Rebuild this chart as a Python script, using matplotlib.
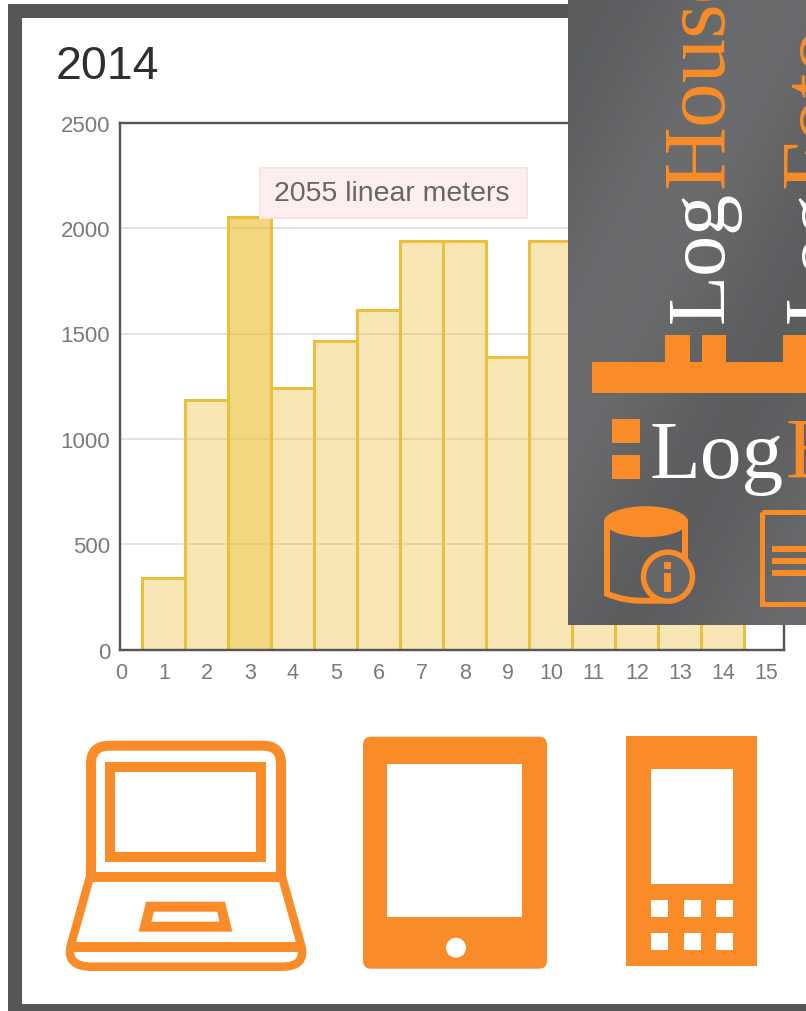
import numpy as np
import matplotlib
matplotlib.use("Agg")
import matplotlib.pyplot as plt
from matplotlib.patches import Rectangle, FancyBboxPatch, Ellipse, Circle, Polygon, PathPatch
from matplotlib.path import Path

days = [1, 2, 3, 4, 5, 6, 7, 8, 9, 10, 11, 12, 13, 14]
meters = [342, 1186, 2055, 1243, 1463, 1613, 1938, 1938, 1388, 1938, 1800, 1500, 1300, 1100]
highlighted_day = 3
x_ticks = list(range(0, 16))
y_ticks = [0, 500, 1000, 1500, 2000, 2500]
title = "2014"
tooltip = "2055 linear meters"

W, H = 806, 1012
OFF = 0.7
ORANGE = "#f98c28"
plt.rcParams["font.family"] = ["Liberation Sans", "DejaVu Sans"]
fig = plt.figure(figsize=(W / 100, H / 100), dpi=100, facecolor="white")
px = 72 / 100

# background layer in pixel coordinates
bg = fig.add_axes([0, 0, 1, 1], zorder=0)
bg.set_xlim(0, W); bg.set_ylim(H - OFF, -OFF); bg.axis("off")
bg.add_patch(Rectangle((8, 4), W, H, fc="#565656", ec="none"))
bg.add_patch(Rectangle((22, 18), W, 986, fc="white", ec="none"))
bg.text(55.5, 78, title, fontsize=33.5, color="#2f2f2f", ha="left", va="baseline")

# chart
ax = fig.add_axes([120 / W, 1 - (650 + OFF) / H, 664 / W, 527 / H], zorder=1)
ax.patch.set_alpha(0)
ax.set_xlim(-0.02, 15.42)
ax.set_ylim(0, 2500)
ax.set_axisbelow(True)
ax.yaxis.grid(True, color="#e3e3e3", lw=2 * px)
ax.xaxis.grid(False)
for d, v in zip(days, meters):
    a = 0.62 if d == highlighted_day else 0.36
    ax.bar(d, v, width=1.0, color=(0.93, 0.74, 0.2, a), edgecolor="#e9bf3c", linewidth=3 * px, zorder=2)
ax.set_xticks(x_ticks)
ax.set_yticks(y_ticks)
ax.tick_params(axis="x", length=0, labelsize=15.5, labelcolor="#7a7a7a", pad=9)
ax.tick_params(axis="y", length=0, labelsize=16, labelcolor="#7a7a7a", pad=7)
for s in ax.spines.values():
    s.set_color("#555555")
    s.set_linewidth(2.4 * px)
    s.set_zorder(3)

# overlay layer
ov = fig.add_axes([0, 0, 1, 1], zorder=2)
ov.set_xlim(0, W); ov.set_ylim(H - OFF, -OFF); ov.axis("off"); ov.patch.set_alpha(0)

# tooltip
ov.add_patch(Rectangle((260, 168), 267, 50, fc="#fdefef", ec="#fbe2e2", lw=2 * px))
ov.text(392, 193.5, tooltip, fontsize=20.5, color="#666666", ha="center", va="center")

# panel with soft diagonal bands
yy, xx = np.mgrid[0:625, 568:806]
n = 0.88 * xx + 0.46 * yy
g = 0.39 + 0.028 * np.cos((n - 680) / 320.0 * 2 * np.pi)
ov.imshow(np.dstack([g - 0.004, g + 0.004, g + 0.012]), extent=(568, 806, 625, 0), aspect="auto", zorder=1, interpolation="bilinear")
ov.set_xlim(0, W); ov.set_ylim(H - OFF, -OFF)

serif = ["Liberation Serif", "DejaVu Serif"]
kw = dict(family=serif, rotation=90, rotation_mode="anchor", ha="left", va="baseline", zorder=3)
ov.text(723, 322, "Log", fontsize=59, color="white", **kw)
ov.text(723, 187, "House", fontsize=64, color=ORANGE, **kw)
ov.text(840, 322, "Log", fontsize=59, color="white", **kw)
ov.text(840, 187, "Foto", fontsize=64, color=ORANGE, **kw)

ov.add_patch(Rectangle((592, 362), 240, 31, fc=ORANGE, ec="none", zorder=2))
ov.add_patch(Rectangle((665, 335), 25, 28, fc=ORANGE, ec="none", zorder=2))
ov.add_patch(Rectangle((702, 335), 24, 28, fc=ORANGE, ec="none", zorder=2))
ov.add_patch(Rectangle((783, 335), 30, 28, fc=ORANGE, ec="none", zorder=2))

ov.add_patch(Rectangle((612, 419), 28, 24, fc=ORANGE, ec="none", zorder=2))
ov.add_patch(Rectangle((612, 455), 28, 24, fc=ORANGE, ec="none", zorder=2))
hkw = dict(family=serif, ha="left", va="baseline", zorder=3)
ov.text(650, 477, "Log", color="white", fontsize=60, **hkw)
ov.text(785, 477, "Book", color=ORANGE, fontsize=62, **hkw)

# database icon
ov.add_patch(PathPatch(Path([(607, 522), (607, 594), (625, 602), (647, 601), (668, 601)],
                            [Path.MOVETO, Path.LINETO, Path.CURVE3, Path.CURVE3, Path.LINETO]),
                       fc="none", ec=ORANGE, lw=6 * px, zorder=2))
ov.plot([685, 685], [522, 560], color=ORANGE, lw=6 * px, zorder=2)
ov.add_patch(Ellipse((646, 522), 84, 31, fc=ORANGE, ec="none", zorder=2))
ov.add_patch(Circle((668, 577), 24.5, fc="#646668", ec=ORANGE, lw=5.5 * px, zorder=3))
ov.add_patch(Rectangle((664, 562), 7, 7, fc=ORANGE, ec="none", zorder=4))
ov.add_patch(Rectangle((664, 573), 7, 19, fc=ORANGE, ec="none", zorder=4))

# document icon
ov.add_patch(Rectangle((761.5, 512.5), 80, 92, fc="none", ec=ORANGE, lw=5 * px, zorder=2))
for y in (549, 561, 573):
    ov.plot([772, 830], [y, y], color=ORANGE, lw=6 * px, solid_capstyle="butt", zorder=2)

# laptop icon
lw_i = 10 * px
ov.add_patch(PathPatch(Path(
    [(91, 877), (91, 764), (91, 746), (109, 746), (263, 746), (281, 746), (281, 764), (281, 877)],
    [Path.MOVETO, Path.LINETO, Path.CURVE3, Path.CURVE3, Path.LINETO, Path.CURVE3, Path.CURVE3, Path.LINETO]),
    fc="none", ec=ORANGE, lw=lw_i, zorder=2))
ov.add_patch(Rectangle((110, 767), 151, 90, fc="none", ec=ORANGE, lw=lw_i, joinstyle="miter", zorder=2))
ov.add_patch(PathPatch(Path(
    [(90, 877), (282, 877), (301, 945), (307, 967), (282, 967), (92, 967), (65, 967), (71, 945), (90, 877)],
    [Path.MOVETO, Path.LINETO, Path.LINETO, Path.CURVE3, Path.CURVE3, Path.LINETO, Path.CURVE3, Path.CURVE3, Path.LINETO]),
    fc="none", ec=ORANGE, lw=8.5 * px, joinstyle="round", zorder=2))
ov.plot([88, 284], [877, 877], color=ORANGE, lw=lw_i, zorder=2, solid_capstyle="butt")
ov.plot([71, 301], [947, 947], color=ORANGE, lw=lw_i, zorder=2, solid_capstyle="butt")
ov.add_patch(Polygon([(150, 907), (221, 907), (226, 927), (145, 927)], closed=True, fc="none", ec=ORANGE, lw=10 * px, joinstyle="miter", zorder=2))

# tablet icon
ov.add_patch(FancyBboxPatch((371, 745), 168, 216, boxstyle="round,pad=8,rounding_size=8", fc=ORANGE, ec="none", zorder=2))
ov.add_patch(Rectangle((387, 764), 135, 153, fc="white", ec="none", zorder=3))
ov.add_patch(Circle((456, 948), 10, fc="white", ec="none", zorder=3))

# phone icon
ov.add_patch(Rectangle((626, 736), 131, 230, fc=ORANGE, ec="none", zorder=2))
ov.add_patch(Rectangle((651, 769), 82, 115, fc="white", ec="none", zorder=3))
for kx in (651, 684, 716):
    for ky in (900, 933):
        ov.add_patch(Rectangle((kx, ky), 17, 17, fc="white", ec="none", zorder=3))

fig.savefig("out.png", dpi=100)
